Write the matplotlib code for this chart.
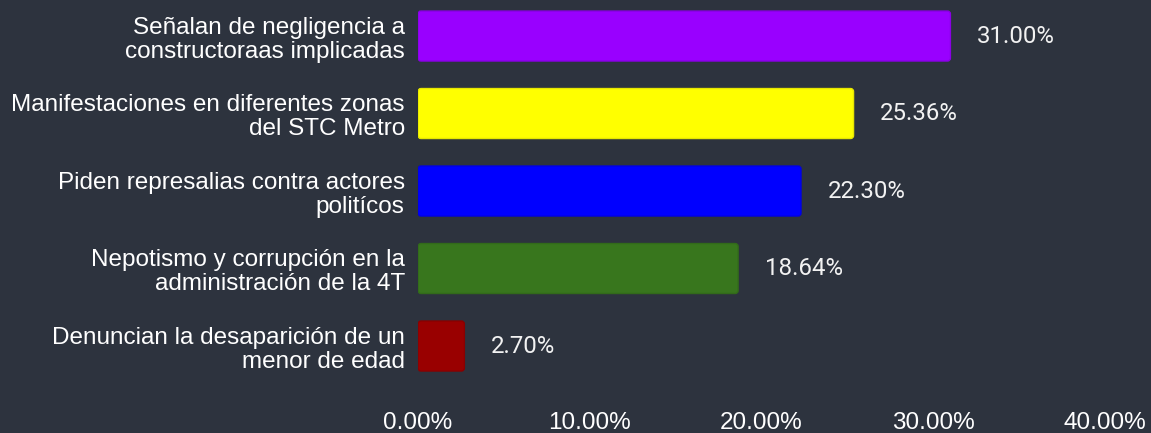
import matplotlib
matplotlib.use("Agg")
import matplotlib.pyplot as plt
from matplotlib.patches import FancyBboxPatch

categories = [
    "Señalan de negligencia a\nconstructoraas implicadas",
    "Manifestaciones en diferentes zonas\ndel STC Metro",
    "Piden represalias contra actores\npolitícos",
    "Nepotismo y corrupción en la\nadministración de la 4T",
    "Denuncian la desaparición de un\nmenor de edad",
]
values = [31.00, 25.36, 22.30, 18.64, 2.70]
colors = ["#9900ff", "#ffff00", "#0000ff", "#38761d", "#990000"]
edge_colors = ["#8a00e6", "#e6e600", "#0000e6", "#326a1a", "#8a0000"]
xticks = [0, 10, 20, 30, 40]
xtick_labels = ["0.00%", "10.00%", "20.00%", "30.00%", "40.00%"]

BG = "#2d333e"
W, H = 1151, 433
fig = plt.figure(figsize=(W / 100, H / 100), dpi=100, facecolor=BG)
ax = fig.add_axes([418 / W, 48 / H, (1105 - 418) / W, 385 / H], facecolor=BG)

y = list(range(len(categories)))
bars = ax.barh(y, values, height=0.645, color=colors, edgecolor=edge_colors, linewidth=1)

ax.set_xlim(0, 40)
ax.set_ylim(4.503, -0.465)

# rounded corners
px_x = (1105 - 418) / 40.0
px_y = 77.5
r = 3.0 / px_x
asp = (3.0 / px_y) / r
for b, c, ec in zip(bars, colors, edge_colors):
    x0, y0 = b.get_x(), b.get_y()
    w, h = b.get_width(), b.get_height()
    fb = FancyBboxPatch((x0, y0), w, h,
                        boxstyle=f"round,pad=0,rounding_size={r}",
                        mutation_aspect=asp, facecolor=c, edgecolor=ec, linewidth=1)
    ax.add_patch(fb)
    b.set_visible(False)

ax.bar_label(bars, labels=[f"{v:.2f}%" for v in values], padding=19,
             color="#f2f2f2", fontsize=17.3, fontfamily="Roboto")

ax.set_yticks(y)
ax.set_yticklabels(categories, fontsize=17.5, fontfamily="Liberation Sans",
                   color="white", linespacing=1.12)
for t in ax.get_yticklabels():
    t.set_y(t.get_position()[1])
ax.set_xticks(xticks)
ax.set_xticklabels(xtick_labels, fontsize=17.5, fontfamily="Liberation Sans", color="white")
ax.tick_params(axis="both", length=0)
ax.tick_params(axis="y", pad=9.5)
ax.tick_params(axis="x", pad=19.5)
for s in ax.spines.values():
    s.set_visible(False)

fig.savefig("out.png", dpi=100, facecolor=BG)
